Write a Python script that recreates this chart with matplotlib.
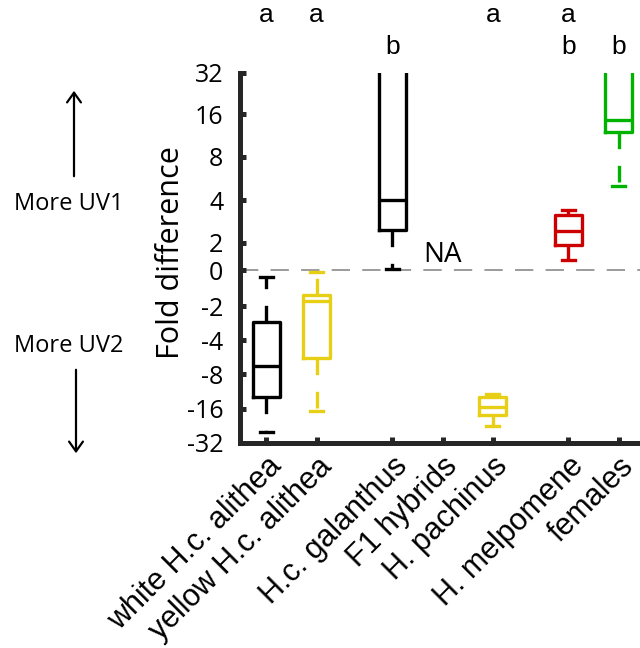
import numpy as np
import matplotlib
matplotlib.use("Agg")
import matplotlib.pyplot as plt
from matplotlib.transforms import blended_transform_factory

# ----------------------------
# Data (fold difference, UV1 vs UV2)
# ----------------------------
groups = ["white H.c. alithea", "yellow H.c. alithea", "H.c. galanthus",
          "F1 hybrids", "H. pachinus", "H. melpomene", "females"]
x_pos = [1, 2, 3.5, 4.5, 5.5, 7, 8]
colors = ["black", "#e6cf14", "black", None, "#e6cf14", "#cc0000", "#00b300"]

# box summary per group, None where there is no data (F1 hybrids)
whislo = [-25.6, -16.7, 0.05, None, -22.6, 0.74, 5.0]
q1 = [-12.6, -5.8, 2.47, None, -18.1, 1.85, 12.0]
med = [-6.8, -1.72, 4.0, None, -15.4, 2.42, 14.5]
q3 = [-2.77, -1.39, 40.0, None, -12.6, 3.14, 40.0]
whishi = [-0.4, -0.1, 90.0, None, -11.9, 3.4, 90.0]

letters_top = ["a", "a", "", "", "a", "a", ""]
letters_bottom = ["", "", "b", "", "", "b", "b"]

fold_ticks = [-32, -16, -8, -4, -2, 0, 2, 4, 8, 16, 32]

# ----------------------------
# Fold-difference axis: log2 steps either side of zero
# ----------------------------
_u = np.array([-7, -5, -4, -3, -2, -1, 0, 1, 2, 3, 4, 5, 7], dtype=float)
_h = np.array([-68, 0, 34, 69, 103, 137, 173, 200, 243, 286, 329, 370, 455], dtype=float)


def to_u(v):
    v = np.asarray(v, dtype=float)
    a = np.abs(v)
    return np.where(a >= 2, np.sign(v) * np.log2(np.maximum(a, 2)), v / 2)


def fwd(v):
    return np.interp(to_u(v), _u, _h)


def inv(h):
    u = np.interp(np.asarray(h, dtype=float), _h, _u)
    return np.where(np.abs(u) >= 1, np.sign(u) * 2 ** np.abs(u), 2 * u)


plt.rcParams["font.family"] = ["Open Sans", "DejaVu Sans"]

fig = plt.figure(figsize=(6.4, 6.48), dpi=100)
W, H = 640, 648
ax = fig.add_axes([240 / W, 1 - 443 / H, 1 - 240 / W, (443 - 73) / H])
ax.set_yscale("function", functions=(fwd, inv))
ax.set_ylim(-32, 32)
ax.set_xlim(0.48, 8.42)

ax.axhline(0, color="#808080", lw=1.1, linestyle=(0, (12, 8)), zorder=0.5)

lw = 2.4
for i in range(len(groups)):
    if med[i] is None:
        continue
    c = colors[i]
    st = dict(med=med[i], q1=q1[i], q3=q3[i], whislo=whislo[i], whishi=whishi[i], fliers=[])
    ax.bxp([st], positions=[x_pos[i]], widths=0.54, capwidths=0.26, showfliers=False,
           boxprops=dict(color=c, lw=lw),
           medianprops=dict(color=c, lw=lw),
           whiskerprops=dict(color=c, lw=lw, linestyle=(0, (5, 5))),
           capprops=dict(color=c, lw=lw),
           manage_ticks=False)

ax.text(x_pos[3], 1.1, "NA", ha="center", va="center", fontsize=20)

# significance letters above the plot
trans = blended_transform_factory(ax.transData, fig.transFigure)
for i in range(len(groups)):
    if letters_top[i]:
        ax.text(x_pos[i], 1 - 15 / H, letters_top[i], transform=trans, ha="center", va="center",
                fontsize=19, family="Liberation Sans", clip_on=False)
    if letters_bottom[i]:
        ax.text(x_pos[i], 1 - 47 / H, letters_bottom[i], transform=trans, ha="center", va="center",
                fontsize=19, family="Liberation Sans", clip_on=False)

# axes styling
for s in ["top", "right"]:
    ax.spines[s].set_visible(False)
for s in ["left", "bottom"]:
    ax.spines[s].set_linewidth(3.6)
    ax.spines[s].set_color("#262626")
    ax.spines[s].set_capstyle("projecting")

ax.set_yticks(fold_ticks)
ax.set_yticklabels([str(t) for t in fold_ticks])
ax.yaxis.set_minor_locator(matplotlib.ticker.NullLocator())
ax.tick_params(axis="y", direction="in", length=4, width=3.6, color="#262626",
               labelsize=18, pad=12)

ax.set_xticks(x_pos)
ax.set_xticklabels(groups, rotation=45, ha="right", rotation_mode="anchor",
                   fontsize=22, family="Liberation Sans")
ax.tick_params(axis="x", direction="in", length=4, width=3.6, color="#262626", pad=6)

ax.set_ylabel("Fold difference", fontsize=22)
ax.yaxis.set_label_coords(-0.135, 0.516)

# direction hints on the left
fig.text(14 / W, 1 - 204 / H, "More UV1", ha="left", va="center", fontsize=17)
fig.text(14 / W, 1 - 346 / H, "More UV2", ha="left", va="center", fontsize=17)
fig.add_artist(matplotlib.patches.FancyArrowPatch(
    (74 / W, 1 - 179 / H), (74 / W, 1 - 88 / H), transform=fig.transFigure,
    arrowstyle="->,head_length=7,head_width=5", lw=1.6, color="black"))
fig.add_artist(matplotlib.patches.FancyArrowPatch(
    (76 / W, 1 - 367 / H), (76 / W, 1 - 456 / H), transform=fig.transFigure,
    arrowstyle="->,head_length=7,head_width=5", lw=1.6, color="black"))

fig.savefig("out.png", dpi=100)
